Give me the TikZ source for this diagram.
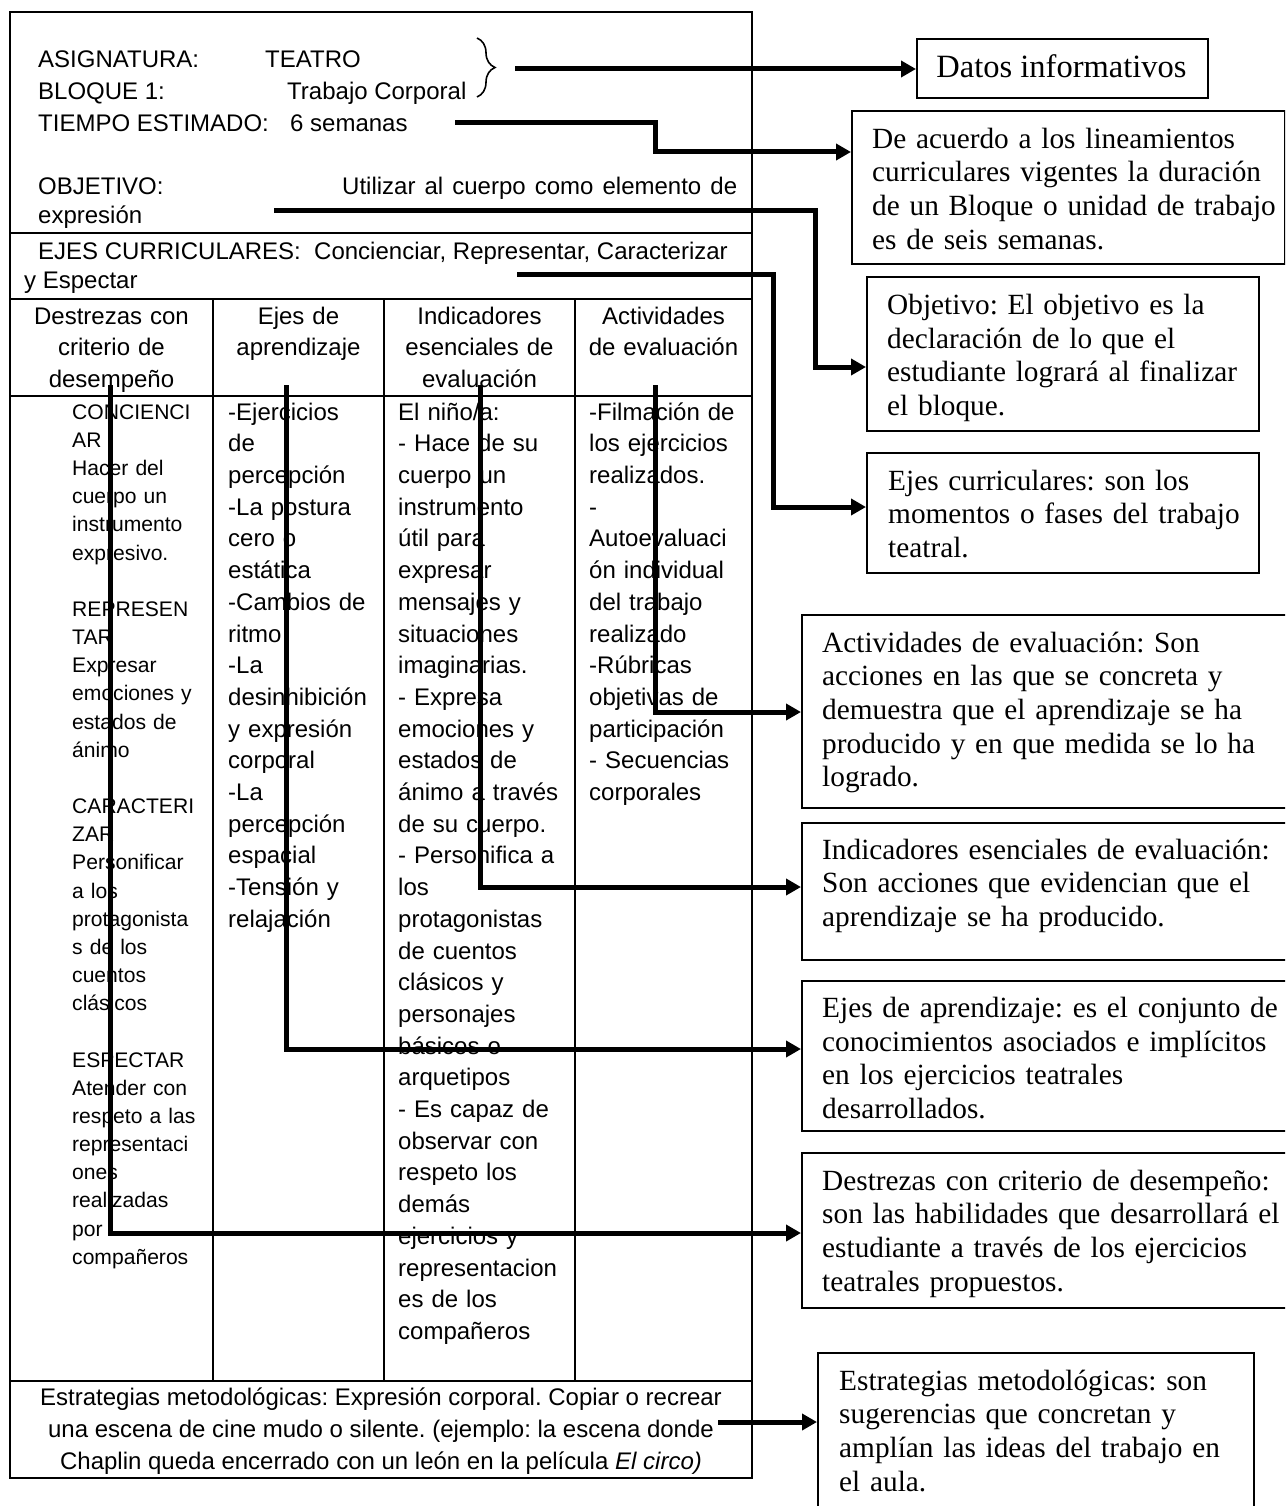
\documentclass[tikz,border=0pt]{standalone}
\usepackage{fontspec}
\setmainfont{Liberation Serif}
\newfontfamily\arialf{Liberation Sans}
\usetikzlibrary{arrows.meta,decorations.pathreplacing}
\newcommand\fA{\frenchspacing\arialf\fontsize{24}{31.7}\selectfont}
\newcommand\fB{\frenchspacing\arialf\fontsize{21.1}{28.17}\selectfont}
\newcommand\fR{\frenchspacing\fontsize{29.3}{33.6}\selectfont}
\begin{document}
\begin{tikzpicture}[x=1pt,y=-1pt,
  ta/.style={inner sep=0pt, anchor=base west, font=\fA},
  colA/.style={inner sep=0pt, anchor=north west, align=left, text width=190pt, font=\fA},
  colB/.style={inner sep=0pt, anchor=north west, align=left, text width=150pt, font=\fB},
  head/.style={inner sep=0pt, anchor=north, align=center, text width=190pt, font=\fA},
  rbox/.style={draw, line width=1.8pt, anchor=north west, inner sep=0pt},
  rtxt/.style={inner sep=0pt, anchor=north west, align=left, text width=520pt, font=\fR},
  tbl/.style={line width=1.6pt},
  outerl/.style={line width=2pt},
  arr/.style={line width=5pt, line join=miter, -{Triangle[length=15pt,width=16pt]}}]
\path[use as bounding box] (0,0) rectangle (1285,1506);
\clip (0,0) rectangle (1285,1506);
\fill[white] (0,0) rectangle (1285,1506);

% ---------- table ----------
\draw[outerl] (10,12) rectangle (752,1478);
\draw[tbl] (10,233) -- (752,233);
\draw[tbl] (10,299) -- (752,299);
\draw[tbl] (10,396) -- (752,396);
\draw[tbl] (10,1381) -- (752,1381);
\draw[tbl] (213,299) -- (213,1381);
\draw[tbl] (384,299) -- (384,1381);
\draw[tbl] (575,299) -- (575,1381);

\node[ta] (asig) at (38,68) {ASIGNATURA:};
\node[ta] (teatro) at (265,68) {TEATRO};
\node[ta] (bloque) at (38,100) {BLOQUE 1:};
\node[ta] (trabajo) at (287,100) {Trabajo Corporal};
\node[ta] (tiempo) at (38,131.5) {TIEMPO ESTIMADO:};
\node[ta] (semanas) at (290,131.5) {6 semanas};
\node[ta] (objet) at (38,194.5) {OBJETIVO:};
\node[ta] (utiliz) at (342,194.5) {\makebox[395pt][s]{Utilizar al cuerpo como elemento de}};
\node[ta] (expres) at (38,224) {expresión};
\node[ta] (ejes) at (38,259) {EJES CURRICULARES:\ \ Concienciar, Representar, Caracterizar};
\node[ta] (espect) at (24,288) {y Espectar};

\draw[line width=1.6pt, decorate, decoration={brace, amplitude=18pt}] (477,38) -- (477,97);

\node[head] (h1) at (111.5,301.8) {\strut Destrezas con\\criterio de\\desempeño};
\node[head] (h2) at (298.5,301.8) {\strut Ejes de\\aprendizaje};
\node[head] (h3) at (479.5,301.8) {\strut Indicadores\\esenciales de\\evaluación};
\node[head] (h4) at (663.5,301.8) {\strut Actividades\\de evaluación};

\node[colB] (c1) at (72,399.3) {\strut CONCIENCI\\AR\\Hacer del\\cuerpo un\\instrumento\\expresivo.\\\strut\\REPRESEN\\TAR\\Expresar\\emociones y\\estados de\\ánimo\\\strut\\CARACTERI\\ZAR\\Personificar\\a los\\protagonista\\s de los\\cuentos\\clásicos\\\strut\\ESPECTAR\\Atender con\\respeto a las\\representaci\\ones\\realizadas\\por\\compañeros};
\node[colA] (c2) at (228,397.8) {\strut -Ejercicios\\de\\percepción\\-La postura\\cero o\\estática\\-Cambios de\\ritmo\\-La\\desinhibición\\y expresión\\corporal\\-La\\percepción\\espacial\\-Tensión y\\relajación};
\node[colA] (c3) at (398,397.8) {\strut El niño/a:\\- Hace de su\\cuerpo un\\instrumento\\útil para\\expresar\\mensajes y\\situaciones\\imaginarias.\\- Expresa\\emociones y\\estados de\\ánimo a través\\de su cuerpo.\\- Personifica a\\los\\protagonistas\\de cuentos\\clásicos y\\personajes\\básicos o\\arquetipos\\- Es capaz de\\observar con\\respeto los\\demás\\ejercicios y\\representacion\\es de los\\compañeros};
\node[colA] (c4) at (589,397.8) {\strut -Filmación de\\los ejercicios\\realizados.\\-\\Autoevaluaci\\ón individual\\del trabajo\\realizado\\-Rúbricas\\objetivas de\\participación\\- Secuencias\\corporales};

\node[ta, anchor=base] (e1) at (381,1405) {Estrategias metodológicas: Expresión corporal. Copiar o recrear};
\node[ta, anchor=base] (e2) at (381,1437) {una escena de cine mudo o silente. (ejemplo: la escena donde};
\node[ta, anchor=base] (e3) at (381,1469) {Chaplin queda encerrado con un león en la película \textit{El circo)}};

% ---------- right boxes ----------
\node[rbox, minimum width=291pt, minimum height=59pt] (bDat) at (916,38) {};
\node[inner sep=0pt, anchor=base, font=\fontsize{32.5}{36}\selectfont] (tDat) at (1061.5,78) {Datos informativos};

\node[rbox, minimum width=433pt, minimum height=153pt] (bDur) at (851,110) {};
\node[rtxt] (tDur) at (872,124.5) {\strut De acuerdo a los lineamientos\\curriculares vigentes la duración\\de un Bloque o unidad de trabajo\\es de seis semanas.};

\node[rbox, minimum width=392pt, minimum height=154pt] (bObj) at (866,276) {};
\node[rtxt] (tObj) at (887,291) {\strut Objetivo: El objetivo es la\\declaración de lo que el\\estudiante logrará al finalizar\\el bloque.};

\node[rbox, minimum width=392pt, minimum height=120pt] (bEjc) at (866,452) {};
\node[rtxt] (tEjc) at (888,466.5) {\strut Ejes curriculares: son los\\momentos o fases del trabajo\\teatral.};

\node[rbox, minimum width=490pt, minimum height=193pt] (bAct) at (801,614) {};
\node[rtxt] (tAct) at (822,628.5) {\strut Actividades de evaluación: Son\\acciones en las que se concreta y\\demuestra que el aprendizaje se ha\\producido y en que medida se lo ha\\logrado.};

\node[rbox, minimum width=490pt, minimum height=137pt] (bInd) at (801,822) {};
\node[rtxt] (tInd) at (822,835.5) {\strut Indicadores esenciales de evaluación:\\Son acciones que evidencian que el\\aprendizaje se ha producido.};

\node[rbox, minimum width=490pt, minimum height=150pt] (bApr) at (801,980) {};
\node[rtxt] (tApr) at (822,994) {\strut Ejes de aprendizaje: es el conjunto de\\conocimientos asociados e implícitos\\en los ejercicios teatrales\\desarrollados.};

\node[rbox, minimum width=490pt, minimum height=155pt] (bDes) at (801,1152) {};
\node[rtxt] (tDes) at (822,1166.5) {\strut Destrezas con criterio de desempeño:\\son las habilidades que desarrollará el\\estudiante a través de los ejercicios\\teatrales propuestos.};

\node[rbox, minimum width=436pt, minimum height=180pt] (bEst) at (817,1352) {};
\node[rtxt] (tEst) at (839,1366.5) {\strut Estrategias metodológicas: son\\sugerencias que concretan y\\amplían las ideas del trabajo en\\el aula.};

% ---------- connectors ----------
\coordinate (s1) at (515,69);
\coordinate (s2) at (455,123);
\coordinate (k2) at (655,152);
\coordinate (s3) at (274,211);
\coordinate (k3) at (815,367);
\coordinate (s4) at (517,274);
\coordinate (k4) at (773,507);
\coordinate (s5) at (655,385);
\coordinate (k5) at (655,712);
\coordinate (s6) at (480,385);
\coordinate (k6) at (480,887);
\coordinate (s7) at (286,385);
\coordinate (k7) at (286,1049);
\coordinate (s8) at (110,385);
\coordinate (k8) at (110,1233);
\coordinate (s9) at (718,1422);

\draw[arr] (s1) -- (bDat.west |- s1);
\draw[arr] (s2) -| (k2) -- (bDur.west |- k2);
\draw[arr] (s3) -| (k3) -- (bObj.west |- k3);
\draw[arr] (s4) -| (k4) -- (bEjc.west |- k4);
\draw[arr] (s5) -- (k5) -- (bAct.west |- k5);
\draw[arr] (s6) -- (k6) -- (bInd.west |- k6);
\draw[arr] (s7) -- (k7) -- (bApr.west |- k7);
\draw[arr] (s8) -- (k8) -- (bDes.west |- k8);
\draw[arr] (s9) -- (bEst.west |- s9);
\end{tikzpicture}
\end{document}
